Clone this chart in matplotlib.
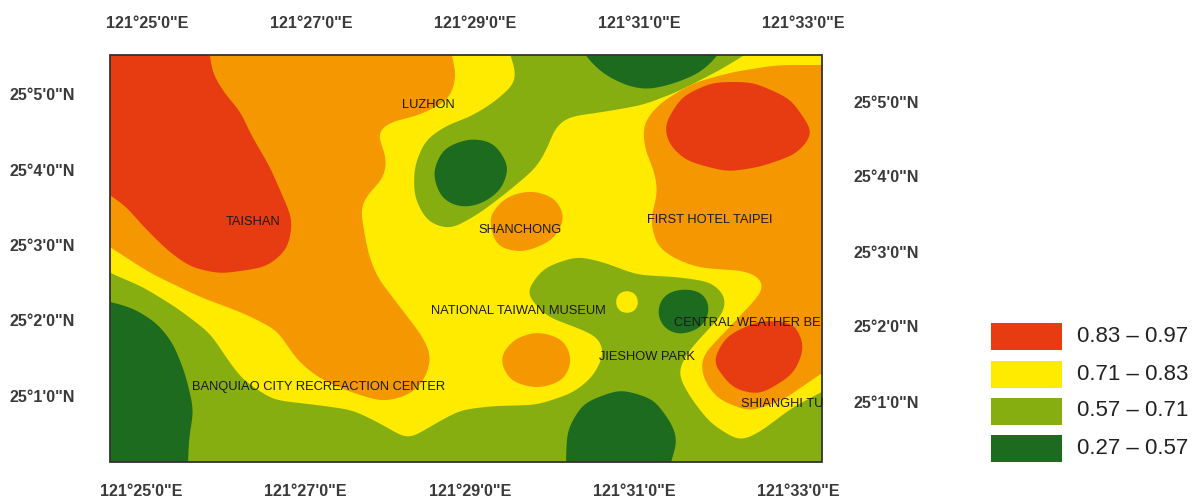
import numpy as np
import matplotlib
matplotlib.use("Agg")
import matplotlib.pyplot as plt
from matplotlib.patches import Polygon, Rectangle

# colours of the classes
RED = '#E73C12'
ORANGE = '#F49700'
YELLOW = '#FFEB00'
GREEN = '#86AE10'
DARK = '#1C6B1E'

yellow_zone = [(90, 35), (506, 35), (510, 56), (516, 70), (516, 83), (493, 103), (470, 117), (447, 125), (425, 140),
               (414, 167), (414, 197), (427, 222), (450, 230), (480, 213), (510, 190), (537, 167), (548, 147),
               (555, 127), (567, 117), (603, 112), (643, 105), (677, 92), (720, 70), (743, 56), (760, 45), (840, 35),
               (840, 382), (822, 392), (793, 407), (760, 432), (740, 442), (710, 423), (690, 397), (677, 373),
               (687, 353), (703, 335), (724, 313), (727, 297), (712, 282), (677, 277), (637, 275), (603, 262),
               (577, 256), (543, 268), (525, 293), (547, 317), (570, 325), (599, 337), (605, 353), (593, 377),
               (573, 393), (537, 405), (493, 406), (460, 410), (433, 425), (408, 440), (383, 425), (353, 410),
               (317, 405), (273, 400), (243, 380), (230, 363), (210, 333), (177, 308), (143, 287), (110, 273),
               (90, 262)]
orange_west = [(90, 35), (447, 35), (452, 56), (457, 77), (449, 100), (420, 115), (387, 123), (376, 133), (387, 157),
               (385, 177), (367, 195), (360, 207), (368, 253), (377, 277), (400, 307), (423, 337), (432, 357),
               (425, 380), (410, 395), (383, 402), (350, 392), (317, 377), (297, 360), (277, 330), (243, 313),
               (200, 297), (150, 273), (110, 247), (90, 235)]
orange_east = [(860, 65), (777, 65), (733, 72), (693, 83), (660, 103), (643, 123), (644, 147), (655, 173), (658, 193),
               (650, 220), (657, 247), (677, 260), (700, 268), (747, 271), (764, 280), (764, 290), (743, 313),
               (720, 337), (701, 357), (702, 377), (717, 399), (750, 412), (783, 400), (822, 373), (860, 350)]
orange_shanchong = [(488, 217), (505, 197), (530, 190), (555, 197), (566, 217), (554, 240), (523, 253), (496, 247)]
orange_south = [(499, 358), (513, 339), (537, 331), (564, 339), (573, 360), (564, 381), (537, 389), (509, 381)]
red_taishan = [(70, 35), (208, 35), (210, 56), (212, 73), (227, 97), (240, 110), (250, 133), (270, 167), (283, 197),
               (293, 220), (288, 249), (267, 267), (220, 274), (190, 267), (167, 250), (140, 223), (127, 207),
               (110, 195), (70, 170)]
red_northeast = [(664, 125), (682, 96), (713, 82), (753, 82), (791, 99), (814, 133), (797, 154), (760, 167),
                 (727, 172), (686, 161), (668, 144)]
red_southeast = [(712, 362), (726, 336), (760, 320), (795, 323), (805, 347), (794, 374), (760, 395), (733, 389)]
dark_north = [(570, 25), (585, 56), (603, 74), (627, 86), (647, 90), (673, 84), (700, 73), (718, 56), (735, 25)]
dark_luzhon = [(432, 173), (443, 148), (470, 138), (494, 142), (510, 167), (501, 191), (480, 205), (460, 208),
               (441, 199)]
dark_southwest = [(70, 293), (111, 302), (133, 308), (157, 323), (173, 343), (185, 373), (194, 410), (189, 437),
                  (188, 462), (188, 495), (70, 495)]
dark_south = [(565, 495), (566, 462), (567, 430), (583, 403), (620, 389), (654, 399), (674, 427), (678, 443),
              (670, 462), (668, 495)]
dark_park = [(656, 312), (663, 294), (683, 288), (704, 292), (711, 308), (704, 327), (680, 336), (663, 329)]
yellow_spot = [(615, 302), (618, 293), (627, 290), (636, 293), (639, 302), (636, 311), (627, 314), (618, 311)]

# tick labels
lon_labels = ['121°25\'0"E', '121°27\'0"E', '121°29\'0"E', '121°31\'0"E', '121°33\'0"E']
lat_labels = ['25°5\'0"N', '25°4\'0"N', '25°3\'0"N', '25°2\'0"N', '25°1\'0"N']
top_x = [147, 311, 475, 639, 803]
bottom_x = [141, 305, 470, 634, 798]
left_y = [95, 171, 246, 321, 397]
right_y = [103, 178, 253, 328, 403]

# place names
places = ['LUZHON', 'TAISHAN', 'SHANCHONG', 'FIRST HOTEL TAIPEI', 'NATIONAL TAIWAN MUSEUM',
          'CENTRAL WEATHER BE', 'JIESHOW PARK', 'BANQUIAO CITY RECREACTION CENTER', 'SHIANGHI TU']
place_x = [402, 226, 478, 647, 431, 674, 599, 192, 741]
place_y = [105, 222, 230, 220, 311, 323, 357, 387, 404]

# legend
legend_labels = ['0.83 – 0.97', '0.71 – 0.83', '0.57 – 0.71', '0.27 – 0.57']
legend_colors = [RED, YELLOW, GREEN, DARK]
legend_y = [323, 361, 398, 435]


def smooth(points):
    # walk the outline at 1px steps, then blur it round the loop
    p = np.array(points + points[:1], dtype=float)
    dist = np.r_[0, np.cumsum(np.hypot(*np.diff(p, axis=0).T))]
    steps = np.arange(0, dist[-1], 1.0)
    x = np.interp(steps, dist, p[:, 0])
    y = np.interp(steps, dist, p[:, 1])
    sigma = min(9.0, dist[-1] / 16)
    freq = np.fft.fftfreq(len(steps))
    gauss = np.exp(-2 * (np.pi * freq * sigma) ** 2)
    return np.c_[np.fft.ifft(np.fft.fft(x) * gauss).real, np.fft.ifft(np.fft.fft(y) * gauss).real]


plt.rcParams['font.family'] = ['Liberation Sans', 'DejaVu Sans']

fig = plt.figure(figsize=(11.92, 4.99), dpi=100)
ax = fig.add_axes([0, 0, 1, 1])
ax.set_xlim(0, 1192)
ax.set_ylim(499, 0)
ax.axis('off')

frame = Rectangle((110, 55), 712, 407, facecolor=GREEN, edgecolor='none', zorder=1)
ax.add_patch(frame)

layers = [
    (yellow_zone, YELLOW), (orange_west, ORANGE), (orange_east, ORANGE), (orange_shanchong, ORANGE),
    (orange_south, ORANGE), (red_taishan, RED), (red_northeast, RED), (red_southeast, RED),
    (dark_north, DARK), (dark_luzhon, DARK), (dark_southwest, DARK), (dark_south, DARK), (dark_park, DARK),
    (yellow_spot, YELLOW),
]
for i, (outline, colour) in enumerate(layers):
    poly = Polygon(smooth(outline), closed=True, facecolor=colour, edgecolor='none', zorder=2 + i * 0.01)
    ax.add_patch(poly)
    poly.set_clip_path(frame)

ax.add_patch(Rectangle((110, 55), 712, 407, facecolor='none', edgecolor='#333333', linewidth=1.3, zorder=3))

for name, x, y in zip(places, place_x, place_y):
    t = ax.text(x, y, name, fontsize=9.3, color='#1a1a1a', ha='left', va='center', zorder=4)
    t.set_clip_path(frame)

for label, xt, xb in zip(lon_labels, top_x, bottom_x):
    ax.text(xt, 23, label, fontsize=11.6, color='#3a3a3a', fontweight='bold', ha='center', va='center')
    ax.text(xb, 492, label, fontsize=11.6, color='#3a3a3a', fontweight='bold', ha='center', va='center')
for label, yl, yr in zip(lat_labels, left_y, right_y):
    ax.text(10, yl, label, fontsize=11.6, color='#3a3a3a', fontweight='bold', ha='left', va='center')
    ax.text(854, yr, label, fontsize=11.6, color='#3a3a3a', fontweight='bold', ha='left', va='center')

for label, colour, y in zip(legend_labels, legend_colors, legend_y):
    ax.add_patch(Rectangle((991, y), 71, 26.5, facecolor=colour, edgecolor='none'))
    ax.text(1077, y + 13, label, fontsize=16, color='#222222', ha='left', va='center')

fig.savefig('out.png', dpi=100)
